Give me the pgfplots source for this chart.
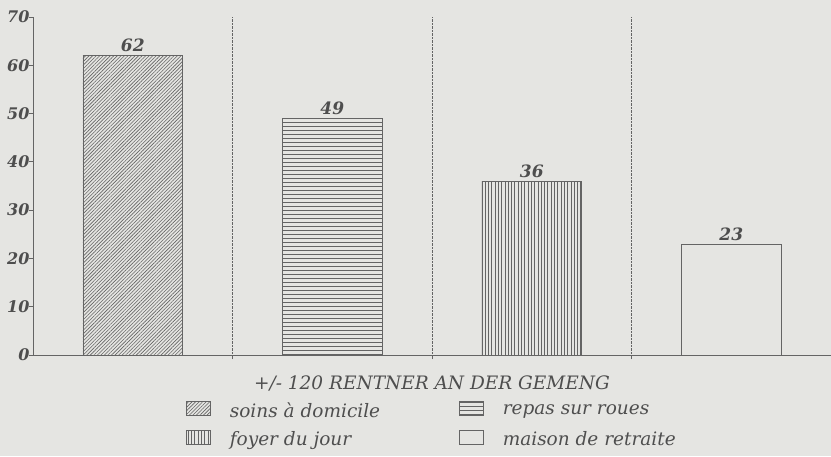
\documentclass[border=0pt]{standalone}
\usepackage{pgfplots}
\pgfplotsset{compat=1.18}
\usepackage{fontspec}
\setmainfont{DejaVu Serif}
\usetikzlibrary{patterns,patterns.meta}
\definecolor{bg}{RGB}{229,229,226}
\definecolor{ink}{RGB}{78,78,78}
\definecolor{ln}{RGB}{100,100,100}
\pgfdeclarepatternformonly{myhlines}{\pgfqpoint{-1pt}{0pt}}{\pgfqpoint{201pt}{4pt}}{\pgfqpoint{200pt}{4pt}}{%
  \pgfsetlinewidth{0.8pt}%
  \pgfpathmoveto{\pgfqpoint{-1pt}{2pt}}\pgfpathlineto{\pgfqpoint{201pt}{2pt}}\pgfusepath{stroke}}
\begin{document}
\begin{tikzpicture}
\fill[bg] (-33pt,-101pt) rectangle (798pt,355pt);
\useasboundingbox (-33pt,-101pt) rectangle (798pt,355pt);
\begin{axis}[
  scale only axis, width=798pt, height=338pt,
  xmin=-0.5, xmax=3.5, ymin=0, ymax=70,
  axis x line=bottom, axis y line=left,
  axis line style={-, ln, line width=0.8pt},
  ytick={0,10,...,70},
  /pgf/number format/assume math mode=true,
  yticklabel style={font=\fontsize{16}{16}\selectfont\bfseries\itshape, text=ink, xshift=4pt},
  xtick={0.5,1.5,2.5}, xticklabels={},
  tick align=outside, major tick length=4pt,
  tick style={ln, line width=0.8pt},
  xmajorgrids, grid style={ln, densely dotted, line width=0.5pt},
  ybar, /pgf/bar shift=0pt, bar width=0.5,
  nodes near coords,
  nodes near coords style={font=\fontsize{17}{17}\selectfont\bfseries\itshape, text=ink},
  xlabel={+/- 120 RENTNER AN DER GEMENG},
  xlabel style={at={(axis description cs:0.5,-0.083)}, anchor=center,
    font=\fontsize{18.5}{18.5}\selectfont\itshape, text=ink},
  legend columns=2, legend cell align=left,
  legend style={at={(0.5,-0.128)}, anchor=north, draw=none, fill=none,
    font=\fontsize{18.5}{18.5}\selectfont\itshape, text=ink,
    /tikz/every even column/.append style={column sep=77pt},
    /tikz/every odd column/.append style={column sep=17pt},
    /tikz/row sep=9pt},
  legend image code/.code={\draw[#1,line width=0.6pt] (0pt,-5pt) rectangle (24pt,9pt);},
]
\addplot[draw=ln, line width=0.6pt, pattern={Lines[angle=45,distance=2.5pt,line width=0.6pt]}, pattern color=ln] coordinates {(0,62)};
\addlegendentry{soins à domicile}
\addplot[draw=ln, line width=0.6pt, pattern=myhlines, pattern color=ln] coordinates {(1,49)};
\addlegendentry{repas sur roues}
\addplot[draw=ln, line width=0.6pt, pattern={Lines[angle=90,distance=3.3pt,line width=0.7pt]}, pattern color=ln] coordinates {(2,36)};
\addlegendentry{foyer du jour}
\addplot[draw=ln, line width=0.6pt, fill=none] coordinates {(3,23)};
\addlegendentry{maison de retraite}
\end{axis}
\end{tikzpicture}
\end{document}
